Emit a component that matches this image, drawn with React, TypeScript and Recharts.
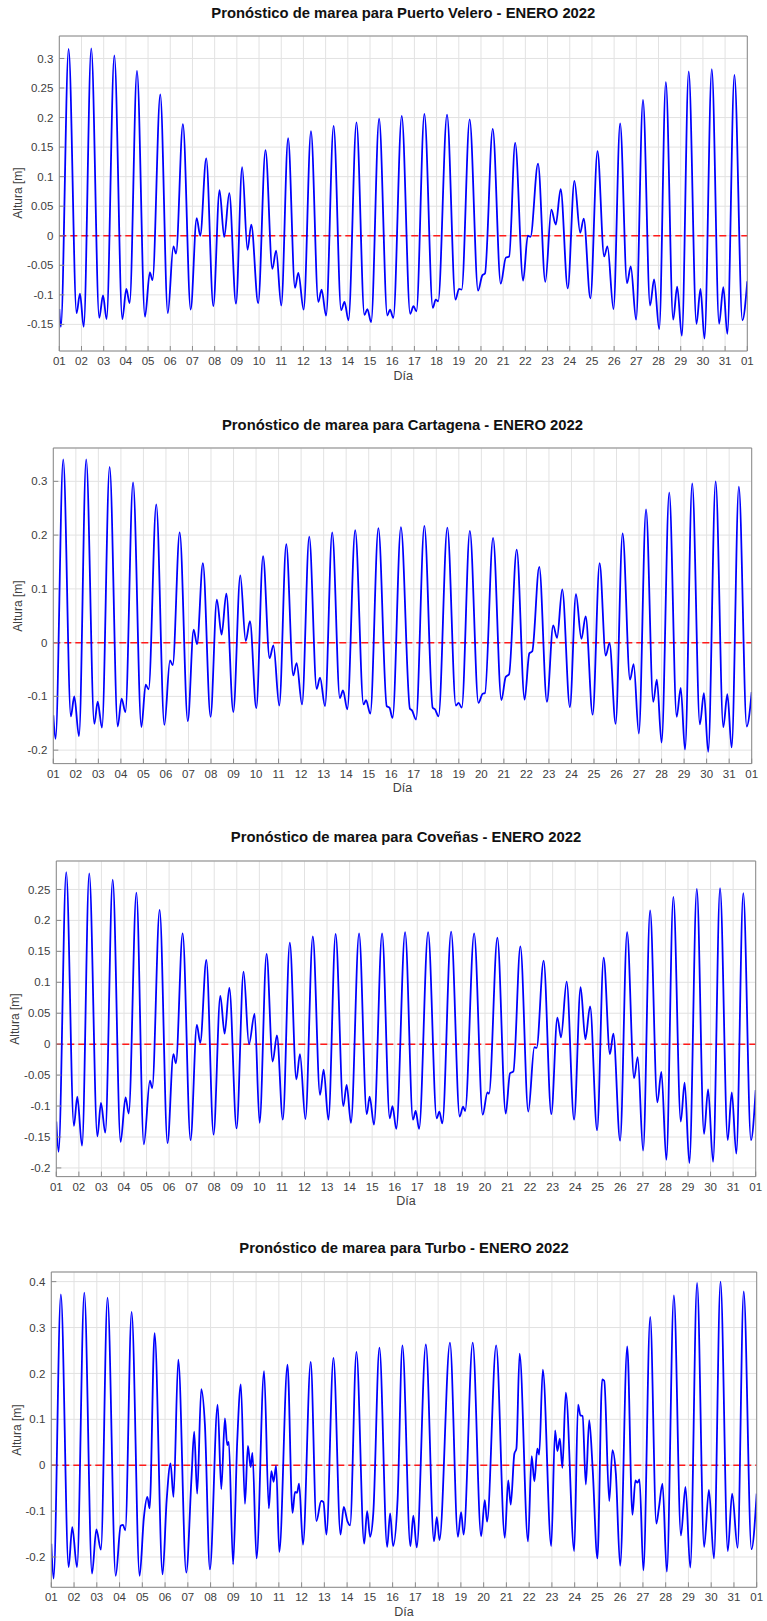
import React from 'react';
import { LineChart, Line, XAxis, YAxis, CartesianGrid, ReferenceLine } from 'recharts';

// días del mes (ticks del eje x, 32 = 01 de febrero)
const diasTicks = [1, 2, 3, 4, 5, 6, 7, 8, 9, 10, 11, 12, 13, 14, 15, 16, 17, 18, 19, 20, 21, 22, 23, 24, 25, 26, 27, 28, 29, 30, 31, 32];

// --- Puerto Velero: extremos ---
const veleroDias = [
  1.0, 1.07, 1.42, 1.78, 1.93, 2.1, 2.44, 2.8, 2.97, 3.13, 3.48, 3.84, 4.02, 4.17, 4.5, 4.86, 5.08, 5.2, 5.55, 5.89,
  6.14, 6.26, 6.57, 6.92, 7.19, 7.35, 7.62, 7.94, 8.22, 8.43, 8.66, 8.96, 9.24, 9.48, 9.65, 9.96, 10.29, 10.6, 10.77, 11.0,
  11.31, 11.62, 11.77, 12.01, 12.34, 12.67, 12.82, 13.02, 13.36, 13.7, 13.85, 14.03, 14.39, 14.75, 14.88, 15.05, 15.41, 15.78, 15.9, 16.05,
  16.43, 16.81, 16.96, 17.09, 17.45, 17.83, 17.96, 18.07, 18.47, 18.85, 19.01, 19.13, 19.49, 19.87, 20.06, 20.18, 20.53, 20.89, 21.12, 21.27,
  21.54, 21.9, 22.11, 22.23, 22.57, 22.9, 23.17, 23.37, 23.59, 23.91, 24.21, 24.47, 24.63, 24.93, 25.25, 25.55, 25.7, 25.97, 26.27, 26.58,
  26.75, 26.99, 27.3, 27.62, 27.8, 28.03, 28.33, 28.66, 28.84, 29.05, 29.36, 29.71, 29.89, 30.07, 30.4, 30.73, 30.92, 31.1, 31.42, 31.78, 32.0,
];
const veleroAltura = [
  -0.124, -0.154, 0.316, -0.131, -0.098, -0.154, 0.317, -0.139, -0.101, -0.141, 0.305, -0.141, -0.09, -0.114, 0.279, -0.137, -0.062, -0.075, 0.239, -0.131,
  -0.018, -0.03, 0.189, -0.125, 0.03, 0.0, 0.131, -0.119, 0.077, -0.002, 0.072, -0.115, 0.116, -0.024, 0.019, -0.114, 0.145, -0.056, -0.025, -0.118,
  0.165, -0.088, -0.063, -0.125, 0.177, -0.112, -0.091, -0.135, 0.186, -0.126, -0.112, -0.143, 0.192, -0.134, -0.124, -0.146, 0.198, -0.135, -0.125, -0.139,
  0.203, -0.132, -0.119, -0.128, 0.206, -0.122, -0.108, -0.111, 0.205, -0.108, -0.09, -0.091, 0.197, -0.093, -0.067, -0.064, 0.181, -0.081, -0.037, -0.035,
  0.157, -0.076, 0.0, -0.002, 0.122, -0.078, 0.044, 0.019, 0.079, -0.089, 0.093, 0.005, 0.029, -0.106, 0.143, -0.035, -0.018, -0.124, 0.19, -0.08,
  -0.052, -0.142, 0.23, -0.118, -0.074, -0.158, 0.26, -0.142, -0.086, -0.169, 0.278, -0.149, -0.09, -0.174, 0.282, -0.149, -0.087, -0.166, 0.272, -0.143, -0.077,
];

// --- Cartagena ---
const cartagenaDias = [
  1.0, 1.1, 1.44, 1.78, 1.93, 2.14, 2.46, 2.82, 2.97, 3.16, 3.5, 3.86, 4.03, 4.2, 4.54, 4.91, 5.1, 5.23, 5.57, 5.93,
  6.18, 6.3, 6.61, 6.97, 7.23, 7.38, 7.64, 7.98, 8.26, 8.47, 8.68, 8.99, 9.3, 9.54, 9.73, 10.01, 10.31, 10.6, 10.77, 11.03,
  11.34, 11.65, 11.8, 12.04, 12.36, 12.69, 12.84, 13.06, 13.38, 13.72, 13.86, 14.05, 14.4, 14.77, 14.88, 15.07, 15.43, 15.8, 15.92, 16.06,
  16.43, 16.83, 16.92, 17.1, 17.47, 17.84, 17.94, 18.1, 18.49, 18.87, 18.99, 19.13, 19.49, 19.87, 20.06, 20.16, 20.52, 20.89, 21.08, 21.23,
  21.57, 21.92, 22.13, 22.26, 22.57, 22.91, 23.19, 23.36, 23.59, 23.93, 24.2, 24.44, 24.63, 24.94, 25.25, 25.52, 25.69, 25.96, 26.27, 26.6,
  26.76, 26.99, 27.31, 27.63, 27.79, 28.0, 28.34, 28.67, 28.85, 29.04, 29.36, 29.7, 29.88, 30.07, 30.4, 30.74, 30.92, 31.11, 31.43, 31.78, 32.0,
];
const cartagenaAltura = [
  -0.135, -0.179, 0.341, -0.137, -0.1, -0.174, 0.341, -0.151, -0.11, -0.158, 0.327, -0.156, -0.104, -0.129, 0.298, -0.157, -0.078, -0.087, 0.257, -0.153,
  -0.033, -0.042, 0.205, -0.146, 0.024, -0.003, 0.148, -0.138, 0.08, 0.015, 0.091, -0.129, 0.125, 0.003, 0.04, -0.122, 0.161, -0.029, -0.005, -0.117,
  0.183, -0.061, -0.038, -0.115, 0.197, -0.086, -0.065, -0.118, 0.205, -0.103, -0.089, -0.124, 0.209, -0.115, -0.107, -0.132, 0.213, -0.118, -0.121, -0.14,
  0.215, -0.123, -0.126, -0.143, 0.217, -0.121, -0.124, -0.137, 0.214, -0.117, -0.112, -0.121, 0.208, -0.112, -0.095, -0.094, 0.195, -0.107, -0.064, -0.059,
  0.173, -0.106, -0.02, -0.016, 0.141, -0.11, 0.032, 0.009, 0.099, -0.12, 0.09, 0.007, 0.049, -0.134, 0.148, -0.024, -0.001, -0.151, 0.203, -0.069,
  -0.04, -0.169, 0.248, -0.11, -0.069, -0.186, 0.279, -0.138, -0.084, -0.199, 0.296, -0.152, -0.094, -0.203, 0.3, -0.157, -0.096, -0.195, 0.29, -0.156, -0.092,
];

// --- Coveñas ---
const covenasDias = [
  1.0, 1.1, 1.44, 1.78, 1.93, 2.14, 2.46, 2.82, 2.98, 3.17, 3.5, 3.85, 4.07, 4.21, 4.55, 4.88, 5.15, 5.25, 5.58, 5.93,
  6.19, 6.3, 6.6, 6.95, 7.23, 7.38, 7.65, 7.97, 8.27, 8.46, 8.67, 8.99, 9.3, 9.54, 9.79, 10.01, 10.32, 10.59, 10.78, 11.04,
  11.35, 11.64, 11.8, 12.04, 12.37, 12.69, 12.85, 13.06, 13.38, 13.72, 13.87, 14.06, 14.42, 14.76, 14.89, 15.08, 15.44, 15.78, 15.9, 16.07,
  16.46, 16.81, 16.93, 17.08, 17.48, 17.86, 17.98, 18.11, 18.5, 18.88, 19.03, 19.12, 19.52, 19.9, 20.11, 20.18, 20.55, 20.92, 21.11, 21.26,
  21.57, 21.92, 22.19, 22.29, 22.6, 22.94, 23.21, 23.37, 23.62, 23.95, 24.24, 24.45, 24.66, 24.97, 25.26, 25.54, 25.69, 25.99, 26.3, 26.61,
  26.77, 27.01, 27.32, 27.64, 27.82, 28.04, 28.35, 28.68, 28.85, 29.06, 29.39, 29.71, 29.89, 30.11, 30.42, 30.76, 30.94, 31.14, 31.45, 31.79, 32.0,
];
const covenasAltura = [
  -0.125, -0.174, 0.278, -0.132, -0.085, -0.164, 0.276, -0.149, -0.095, -0.143, 0.266, -0.158, -0.086, -0.112, 0.245, -0.162, -0.059, -0.071, 0.217, -0.16,
  -0.016, -0.031, 0.179, -0.155, 0.031, 0.002, 0.136, -0.146, 0.078, 0.017, 0.091, -0.136, 0.117, 0.0, 0.049, -0.127, 0.146, -0.028, 0.014, -0.122,
  0.164, -0.057, -0.016, -0.121, 0.174, -0.082, -0.041, -0.122, 0.178, -0.1, -0.066, -0.127, 0.179, -0.113, -0.085, -0.13, 0.179, -0.12, -0.1, -0.137,
  0.181, -0.122, -0.108, -0.137, 0.181, -0.12, -0.109, -0.128, 0.182, -0.117, -0.101, -0.108, 0.179, -0.114, -0.078, -0.08, 0.172, -0.112, -0.047, -0.044,
  0.158, -0.109, -0.005, -0.006, 0.135, -0.113, 0.043, 0.011, 0.101, -0.122, 0.092, 0.008, 0.061, -0.139, 0.14, -0.016, 0.017, -0.156, 0.181, -0.055,
  -0.021, -0.172, 0.216, -0.094, -0.045, -0.187, 0.238, -0.125, -0.062, -0.192, 0.251, -0.145, -0.073, -0.19, 0.252, -0.155, -0.078, -0.177, 0.244, -0.155, -0.074,
];

// --- Turbo ---
const turboDias = [
  1.0, 1.1, 1.42, 1.76, 1.92, 2.13, 2.45, 2.79, 2.98, 3.18, 3.47, 3.83, 4.05, 4.15, 4.25, 4.53, 4.88, 5.07, 5.22, 5.32,
  5.54, 5.89, 6.07, 6.24, 6.37, 6.58, 6.93, 7.16, 7.28, 7.41, 7.59, 7.75, 7.97, 8.31, 8.47, 8.63, 8.73, 8.8, 8.99, 9.17,
  9.33, 9.51, 9.64, 9.76, 9.84, 10.02, 10.35, 10.56, 10.67, 10.77, 10.88, 11.02, 11.38, 11.6, 11.71, 11.8, 11.89, 12.06, 12.4, 12.65,
  12.86, 12.96, 13.09, 13.4, 13.71, 13.85, 14.02, 14.13, 14.41, 14.75, 14.88, 15.01, 15.15, 15.42, 15.76, 15.89, 16.02, 16.22, 16.43, 16.78,
  16.91, 17.06, 17.46, 17.82, 17.94, 18.06, 18.52, 18.87, 19.01, 19.12, 19.52, 19.89, 20.05, 20.15, 20.55, 20.93, 21.08, 21.19, 21.35, 21.44,
  21.58, 21.95, 22.11, 22.23, 22.36, 22.44, 22.6, 22.97, 23.14, 23.24, 23.35, 23.46, 23.61, 23.98, 24.15, 24.25, 24.35, 24.49, 24.64, 24.79,
  25.0, 25.21, 25.3, 25.52, 25.66, 25.81, 26.0, 26.31, 26.54, 26.67, 26.76, 26.85, 27.02, 27.32, 27.59, 27.7, 27.86, 28.05, 28.36, 28.67,
  28.87, 29.08, 29.38, 29.69, 29.9, 30.12, 30.41, 30.73, 30.92, 31.16, 31.43, 31.77, 32.0,
];
const turboAltura = [
  -0.171, -0.247, 0.372, -0.222, -0.135, -0.222, 0.376, -0.236, -0.14, -0.184, 0.365, -0.241, -0.132, -0.13, -0.142, 0.334, -0.241, -0.113, -0.069, -0.094,
  0.288, -0.238, -0.076, 0.004, -0.069, 0.23, -0.234, -0.029, 0.073, -0.062, 0.166, 0.089, -0.227, 0.132, -0.052, 0.102, 0.044, 0.051, -0.216, 0.051,
  0.176, -0.084, 0.042, -0.004, 0.027, -0.203, 0.205, -0.094, -0.013, -0.036, -0.001, -0.189, 0.219, -0.104, -0.058, -0.06, -0.04, -0.173, 0.225, -0.122,
  -0.078, -0.08, -0.151, 0.234, -0.151, -0.091, -0.123, -0.131, 0.247, -0.171, -0.1, -0.156, -0.105, 0.256, -0.178, -0.105, -0.176, -0.073, 0.261, -0.176,
  -0.11, -0.179, 0.263, -0.166, -0.113, -0.163, 0.267, -0.156, -0.102, -0.151, 0.267, -0.155, -0.076, -0.123, 0.261, -0.158, -0.033, -0.086, 0.025, 0.036,
  0.243, -0.166, 0.02, -0.035, 0.036, 0.023, 0.208, -0.176, 0.076, 0.031, 0.058, -0.006, 0.158, -0.187, 0.132, 0.109, 0.107, -0.042, 0.098, -0.007,
  -0.203, 0.187, 0.184, -0.078, 0.033, -0.018, -0.219, 0.259, -0.108, -0.033, -0.038, -0.031, -0.229, 0.323, -0.127, -0.094, -0.04, -0.232, 0.37, -0.153,
  -0.047, -0.223, 0.397, -0.178, -0.054, -0.203, 0.4, -0.187, -0.062, -0.18, 0.379, -0.183, -0.062,
];

// ticks del eje y de cada estación
const veleroYTicks = [-0.15, -0.1, -0.05, 0, 0.05, 0.1, 0.15, 0.2, 0.25, 0.3];
const cartagenaYTicks = [-0.2, -0.1, 0, 0.1, 0.2, 0.3];
const covenasYTicks = [-0.2, -0.15, -0.1, -0.05, 0, 0.05, 0.1, 0.15, 0.2, 0.25];
const turboYTicks = [-0.2, -0.1, 0, 0.1, 0.2, 0.3, 0.4];

const W = 767;
const AXIS_COLOR = '#8a8a8a';
const TEXT_COLOR = '#404040';
const FONT = '"Liberation Sans", Arial, Helvetica, sans-serif';

const fmtDia = (d: number) => String(d > 31 ? d - 31 : d).padStart(2, '0');
const fmtAltura = (v: number) => String(Number(v.toFixed(2)));

interface Caja {
  top: number;
  bottom: number;
  left: number;
  right: number;
  titleY: number;
  diaY: number;
  alturaX: number;
}

interface PanelProps {
  titulo: string;
  dias: number[];
  alturas: number[];
  yDomain: [number, number];
  yTicks: number[];
  caja: Caja;
}

function Panel({ titulo, dias, alturas, yDomain, yTicks, caja }: PanelProps) {
  const data = dias.map((d, i) => ({ dia: d, altura: alturas[i] }));
  const top0 = caja.top - 30;
  const height = caja.bottom - caja.top + 70;
  const midY = (caja.top + caja.bottom) / 2;
  const midX = (caja.left + caja.right) / 2;

  return (
    <>
      {/* título */}
      <div
        style={{
          position: 'absolute',
          top: caja.titleY - 9,
          left: midX - 300,
          width: 600,
          lineHeight: '18px',
          textAlign: 'center',
          fontWeight: 'bold',
          fontSize: 14.8,
          color: '#111',
        }}
      >
        {titulo}
      </div>
      {/* eje y */}
      <div
        style={{
          position: 'absolute',
          top: midY - 8,
          left: caja.alturaX - 50,
          width: 100,
          lineHeight: '16px',
          textAlign: 'center',
          fontSize: 12,
          color: TEXT_COLOR,
          transform: 'rotate(-90deg)',
        }}
      >
        Altura [m]
      </div>
      {/* eje x */}
      <div
        style={{
          position: 'absolute',
          top: caja.diaY - 8,
          left: midX - 50,
          width: 100,
          lineHeight: '16px',
          textAlign: 'center',
          fontSize: 12.5,
          color: TEXT_COLOR,
        }}
      >
        Día
      </div>
      <div style={{ position: 'absolute', top: top0, left: 0, width: W, height }}>
        <LineChart
          width={W}
          height={height}
          data={data}
          margin={{ top: 29, right: W - caja.right - 1, bottom: 0, left: 0 }}
        >
          <CartesianGrid stroke="#e2e2e2" strokeWidth={1} />
          <XAxis
            dataKey="dia"
            type="number"
            domain={[1, 32]}
            ticks={diasTicks}
            interval={0}
            allowDataOverflow
            tickFormatter={fmtDia}
            height={40}
            tickSize={-5}
            tickMargin={11}
            stroke={AXIS_COLOR}
            tick={{ fill: TEXT_COLOR, fontSize: 11.5 }}
          />
          <XAxis
            xAxisId="top"
            orientation="top"
            dataKey="dia"
            type="number"
            domain={[1, 32]}
            ticks={diasTicks}
            interval={0}
            allowDataOverflow
            height={1}
            tickSize={-5}
            tick={false}
            stroke={AXIS_COLOR}
          />
          <YAxis
            type="number"
            domain={yDomain}
            ticks={yTicks}
            interval={0}
            allowDataOverflow
            tickFormatter={fmtAltura}
            width={caja.left}
            tickSize={-5}
            tickMargin={11}
            stroke={AXIS_COLOR}
            tick={{ fill: TEXT_COLOR, fontSize: 11.5 }}
          />
          <YAxis
            yAxisId="right"
            orientation="right"
            type="number"
            domain={yDomain}
            ticks={yTicks}
            interval={0}
            allowDataOverflow
            width={1}
            tickSize={-5}
            tick={false}
            stroke={AXIS_COLOR}
          />
          <ReferenceLine y={0} stroke="#ff1a1a" strokeDasharray="7 4" strokeWidth={1.5} />
          <Line
            dataKey="altura"
            type="monotone"
            stroke="#0000ff"
            strokeWidth={1.8}
            dot={false}
            activeDot={false}
            isAnimationActive={false}
          />
        </LineChart>
      </div>
    </>
  );
}

export default function App() {
  return (
    <div
      style={{
        position: 'absolute',
        top: 0,
        left: 0,
        width: W,
        height: 1621,
        background: '#fff',
        fontFamily: FONT,
        overflow: 'hidden',
      }}
    >
      <Panel
        titulo="Pronóstico de marea para Puerto Velero - ENERO 2022"
        dias={veleroDias}
        alturas={veleroAltura}
        yDomain={[-0.195, 0.338]}
        yTicks={veleroYTicks}
        caja={{ top: 35.7, bottom: 350.7, left: 59.3, right: 747.3, titleY: 13.3, diaY: 375.7, alturaX: 18.3 }}
      />
      <Panel
        titulo="Pronóstico de marea para Cartagena - ENERO 2022"
        dias={cartagenaDias}
        alturas={cartagenaAltura}
        yDomain={[-0.225, 0.362]}
        yTicks={cartagenaYTicks}
        caja={{ top: 447.7, bottom: 763.3, left: 53.3, right: 751.7, titleY: 425, diaY: 787.7, alturaX: 18.3 }}
      />
      <Panel
        titulo="Pronóstico de marea para Coveñas - ENERO 2022"
        dias={covenasDias}
        alturas={covenasAltura}
        yDomain={[-0.214, 0.296]}
        yTicks={covenasYTicks}
        caja={{ top: 860.7, bottom: 1176.3, left: 56.3, right: 755.7, titleY: 837, diaY: 1200.7, alturaX: 15 }}
      />
      <Panel
        titulo="Pronóstico de marea para Turbo - ENERO 2022"
        dias={turboDias}
        alturas={turboAltura}
        yDomain={[-0.266, 0.421]}
        yTicks={turboYTicks}
        caja={{ top: 1272, bottom: 1587.3, left: 51.3, right: 756.7, titleY: 1248, diaY: 1612, alturaX: 16.7 }}
      />
    </div>
  );
}
